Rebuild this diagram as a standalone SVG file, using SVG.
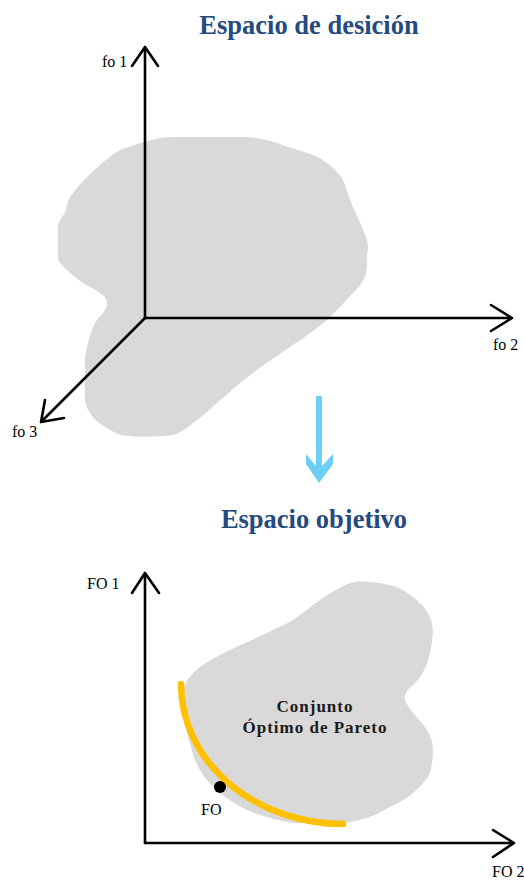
<svg xmlns="http://www.w3.org/2000/svg" width="524" height="881" viewBox="0 0 524 881">
<style>
.title{font-family:"Liberation Serif","Times New Roman",serif;font-weight:bold;font-size:26.5px;fill:#254a7f;text-anchor:middle}
.lbl{font-family:"Liberation Serif","Times New Roman",serif;font-size:16px;fill:#000}
.blob{fill:#d9d9d9;stroke:none}
.axis{fill:none;stroke:#000;stroke-width:2.6;stroke-linecap:round;stroke-linejoin:round}
.inner{font-family:"Liberation Serif","Times New Roman",serif;font-weight:bold;font-size:17px;fill:#1a1a1a;text-anchor:middle;letter-spacing:1px}
</style>
<rect width="524" height="881" fill="#fff"/>
<g id="decision-space">
<text class="title" x="309" y="34">Espacio de desición</text>
<path id="blob1" class="blob" d="M115,153 C125,147 132,146 140,143 C152,140 160,137 173,137 L247,137 C260,138 268,140 277,143 C292,149 308,152 320,158 C332,166 338,172 343,180 C347,190 349,198 353,207 C358,218 363,228 367,240 C369,248 367,252 367,257 C367,266 367,271 365,277 C361,285 358,288 353,293 C345,302 337,310 330,317 C323,324 317,328 310,333 C303,339 297,342 290,347 C279,355 268,361 257,370 C251,375 246,378 240,383 C232,390 225,396 217,403 C209,410 202,417 193,423 C186,429 180,433 173,435 C158,437 142,437 127,436 C120,435 115,433 110,430 C102,425 94,420 90,413 C86,407 85,402 85,397 L85,363 C85,355 86,349 88,343 C90,335 92,329 95,323 C98,318 101,316 103,313 C106,309 107,306 107,303 C107,298 104,296 100,293 C95,289 89,287 83,283 C77,279 72,275 67,270 C61,264 58,262 58,257 L58,227 C59,220 62,217 65,213 C67,207 67,202 70,197 C76,189 81,183 87,177 C96,168 105,160 115,153 Z"/>
<g class="axis">
<path d="M145,318 V47 M132,66 L145,47 L158,66"/>
<path d="M145,318 H512 M491,305 L512,318 L491,331"/>
<path d="M145,318 L41,422 M45,400 L41,422 L64,418"/>
</g>
<text class="lbl" x="102" y="67">fo 1</text>
<text class="lbl" x="493" y="350">fo 2</text>
<text class="lbl" x="12" y="437">fo 3</text>
</g>
<g id="transition">
<polygon points="316,396 322,396 322,466 333,454 333,464 319,483 306,464 306,454 316,466" fill="#6dcff6"/>
</g>
<g id="objective-space">
<text class="title" x="314" y="528">Espacio objetivo</text>
<path id="blob2" class="blob" d="M187,680 C192,674 195,671 200,667 C210,660 220,655 230,650 C242,644 255,639 267,633 C276,628 285,625 293,620 C302,614 311,606 320,600 C330,593 340,587 350,583 C360,580 370,582 380,583 C390,585 396,586 403,590 C410,595 415,598 420,603 C426,609 430,615 432,623 C434,633 432,643 430,653 C428,662 425,670 420,677 C416,683 411,686 408,690 C405,694 404,697 405,700 C407,705 410,709 413,713 C418,719 423,724 427,730 C431,737 433,743 433,750 C433,758 432,766 430,773 C426,781 420,787 413,793 C406,799 398,803 390,807 C383,811 377,814 370,817 C361,820 352,822 343,823 L293,823 C276,820 262,816 247,810 C237,805 228,800 220,793 C212,786 205,779 200,770 C195,762 192,752 190,743 C187,733 184,723 183,713 L183,693 C184,688 185,684 187,680 Z"/>
<path d="M181,684 A162,140 0 0 0 343,824" fill="none" stroke="#ffc000" stroke-width="6.5" stroke-linecap="round"/>
<circle cx="220" cy="787" r="6" fill="#000"/>
<text class="lbl" x="201" y="815">FO</text>
<text class="inner" x="315" y="712">Conjunto</text>
<text class="inner" x="315" y="733">Óptimo de Pareto</text>
<g class="axis">
<path d="M145,843 V573 M132,593 L145,573 L159,593"/>
<path d="M145,843 H514 M493,830 L514,843 L493,857"/>
</g>
<text class="lbl" x="87" y="589">FO 1</text>
<text class="lbl" x="492" y="877">FO 2</text>
</g>
</svg>
